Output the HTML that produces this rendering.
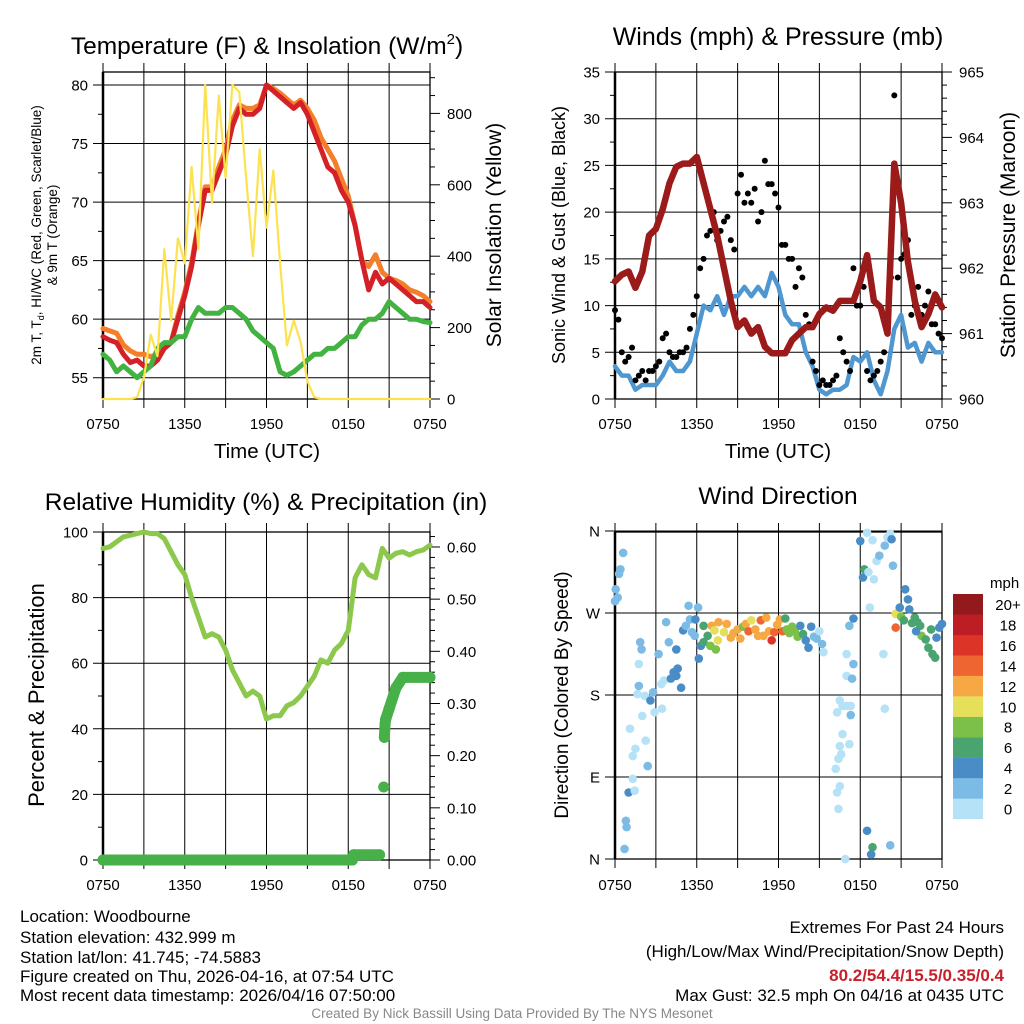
<!DOCTYPE html>
<html><head><meta charset="utf-8"><style>
html,body{margin:0;padding:0;background:#fff}
svg{display:block;font-family:"Liberation Sans",sans-serif}
.nar{font-family:"Liberation Sans Narrow","Liberation Sans",sans-serif}
</style></head><body>
<svg id="fig" width="1024" height="1024" viewBox="0 0 1024 1024" xmlns="http://www.w3.org/2000/svg">
<rect width="1024" height="1024" fill="#fff"/>
<g class="nar" font-size="17" fill="#000">
<text x="20" y="922">Location: Woodbourne</text>
<text x="20" y="943">Station elevation: 432.999 m</text>
<text x="20" y="963">Station lat/lon: 41.745; -74.5883</text>
<text x="20" y="982">Figure created on Thu, 2026-04-16, at 07:54 UTC</text>
<text x="20" y="1001">Most recent data timestamp: 2026/04/16 07:50:00</text>
<text x="1004" y="933" text-anchor="end">Extremes For Past 24 Hours</text>
<text x="1004" y="957" text-anchor="end">(High/Low/Max Wind/Precipitation/Snow Depth)</text>
<text x="1004" y="981" text-anchor="end" fill="#c8202a" font-weight="bold">80.2/54.4/15.5/0.35/0.4</text>
<text x="1004" y="1001" text-anchor="end">Max Gust: 32.5 mph On 04/16 at 0435 UTC</text>
<text x="512" y="1018" text-anchor="middle" font-size="13.5" fill="#888">Created By Nick Bassill Using Data Provided By The NYS Mesonet</text>
</g>
</svg>
<script>
// ---------- data (half-hourly from 0750 UTC, t = 0..24 h) ----------
const timeLabels = ["0750","1350","1950","0150","0750"];
const tempRed = [58.5,58.2,58,57,56.3,56.5,56,56,56.5,57.5,58,60,62,64.5,68,71,71,72.5,74,76.5,78,77.5,77.5,78,80,79.5,79,78.5,78,78.5,77.5,76,74.5,73,72.5,71,70,68,65,62.5,64,63,63.5,63,62.5,62,61.5,61.5,61];
const temp9m = [59.2,59,58.8,57.8,57.3,57,57,56.8,57,57.5,58,60.3,62.3,64.8,68.3,71.3,71.3,73,74.5,77,78.3,78,78,78.3,80,79.7,79.3,78.8,78.3,78.7,78,77,75.5,74.5,73.5,72,70.5,68,65,64.5,65.5,64,63.5,63.3,63,62.5,62.3,62,61.5];
const dewGreen = [57,56.5,55.5,56,55.5,55,55.5,56,57.5,58,58,58.5,58.5,60,61,60.5,60.5,60.5,61,61,60.5,60,59,58.5,58,57.5,55.5,55.2,55.5,56,56.5,57,57,57.5,57.5,58,58.5,58.5,59.5,60,60,60.5,61.5,61,60.5,60,60,59.8,59.7];
const solar = [0,0,0,0,0,5,60,180,120,420,220,450,380,650,420,880,550,850,620,880,860,620,400,700,480,640,380,150,220,160,50,5,0,0,0,0,0,0,0,0,0,0,0,0,0,0,0,0,0];
const windSpd = [3.5,2.5,2.5,1,1.5,1.5,1.5,2.5,4,3,3,4,7,10,9.5,11,9,11,11,12,11,12,11,13.5,12,9,8,8,5,3.5,1,0.5,1,1,1.5,4.5,4,5,2,0.5,3,7.5,9,5.5,6,4,6,5,5];
const gustA = [9.5,5,4.5,2,3,3,3.5,6.5,5,4.5,5,7.5,11,15,18,17,19,17,22,21,21,19,25.5,23,20.5,16.5,15,14,9,4,1.5,1.5,2,6.5,4,14,10,3,2.5,4,8,32.5,15,17,10,9,11.5,8,6.5];
const gustB = [8.5,4,5.5,2.5,2,3,4,7,4.5,5,5.5,9,14,17.5,20,18,19.5,16,24,22,22.5,20,23,22,16.5,15,12,13,8,3,2,1.5,2.5,5,3,10,12,2,3,5,13,13,15.5,9,12,10,8,7];
const pressure = [961.8,961.9,961.95,961.7,961.95,962.5,962.6,962.9,963.3,963.55,963.6,963.6,963.7,963.3,962.9,962.5,962.0,961.5,961.1,961.2,961.0,961.1,960.8,960.7,960.7,960.7,960.9,961.0,961.1,961.1,961.3,961.4,961.35,961.5,961.5,961.5,961.8,962.2,961.5,961.4,961.0,963.6,963.0,962.1,961.5,961.1,961.3,961.6,961.4];
const rh = [95,95.5,97,98.5,99,99.5,100,99.5,99.5,98,94,90,87,80,74,68,69,68,64,58,54,50,51.5,50,43,44,44,47,48,50,53,56,61,60,64,66,70,86,90,87,86,95,92,93.5,94,93,94,94.5,96];
const precipT = [0,18.3,18.4,20.3,20.6,20.65,20.7,20.75,21,21.5,22,24];
const precipV = [0,0,0.01,0.01,0.14,0.235,0.26,0.27,0.29,0.33,0.35,0.35];
const dirT = [0.0,0.05,0.2,0.3,0.4,0.6,0.7,0.8,0.85,1.0,1.3,1.45,1.3,1.5,1.1,1.65,1.75,2.0,2.25,2.4,2.2,1.85,1.95,1.75,2.6,2.9,2.8,3.2,3.4,3.6,3.45,3.75,3.95,4.5,4.1,4.3,4.5,4.85,4.6,5.0,5.2,5.5,5.4,5.65,5.85,6.1,5.9,6.15,6.3,6.5,6.5,6.8,7.0,7.1,7.3,7.6,7.4,7.55,8.0,8.2,8.5,8.7,9.0,9.2,9.4,9.6,9.8,10.0,10.3,10.5,10.7,10.9,11.1,11.3,11.5,11.7,11.9,12.1,12.3,12.5,12.6,12.8,13.0,13.2,13.4,13.6,13.8,14.0,14.2,14.4,14.6,14.8,15.0,15.2,15.3,16.4,16.3,16.5,16.2,16.4,16.6,16.5,16.7,16.3,16.7,16.5,17.0,17.3,17.2,17.0,17.4,17.0,17.5,17.3,16.9,17.5,17.2,18.0,18.3,18.2,18.7,18.5,18.9,18.6,19.0,19.2,19.4,19.8,20.0,20.2,20.3,20.4,18.5,18.9,18.8,20.2,19.7,19.8,20.6,20.6,20.8,20.9,21.0,21.3,21.5,21.6,21.2,21.8,22.0,22.2,22.4,22.5,22.8,23.0,23.3,23.5,23.8,24.0,23.6,23.2,22.1];
const dirDeg = [283,296,287,313,318,336,11,42,35,73,88,75,113,121,143,181,190,157,130,102,179,238,230,214,174,161,183,225,192,196,165,260,238,230,198,205,201,188,209,251,256,263,278,249,245,276,263,220,234,238,256,245,234,256,251,260,230,240,249,258,243,248,252,242,255,258,250,262,252,245,262,245,265,250,240,249,257,263,250,264,252,248,255,250,244,256,247,240,232,255,244,242,250,236,227,55,73,80,99,110,115,124,137,161,168,174,168,158,126,201,198,225,214,168,0,264,256,349,318,309,276,358,350,315,307,327,333,344,353,357,351,322,31,13,5,15,225,165,254,269,271,276,266,296,285,274,262,259,265,260,256,245,241,232,225,221,254,258,243,252,250];
const dirSpd = [3,2,3,2,2,2,2,2,2,4,1,0,1,1,0,1,3,1,1,3,1,3,2,0,4,1,3,3,0,1,1,2,2,4,4,4,4,4,4,4,2,2,2,2,2,2,4,4,4,6,6,7,8,13,11,12,9,10,11,12,12,13,12,12,9,12,14,10,12,13,15,12,12,12,16,14,13,12,14,6,8,9,8,8,9,5,7,4,4,5,3,3,1,2,1,0,0,1,0,1,0,1,0,0,0,1,1,2,1,0,2,0,3,1,0,4,2,4,6,4,1,0,0,1,0,1,2,2,1,1,4,2,4,6,4,2,0,0,15,10,10,4,8,4,4,4,6,6,6,6,6,8,6,7,7,7,4,4,4,6,4];
const speedBins = ["0","2","4","6","8","10","12","14","16","18","20+"];
const binColors = ["#b5e2f7","#7cbbe6","#4a8cc6","#49a46f","#7cc04a","#e6df5a","#f5a844","#ef6531","#dd3428","#bd1d25","#921a1c"];

// ---------- helpers ----------
const NS = "http://www.w3.org/2000/svg";
const svg = document.getElementById("fig");
function mk(tag, attrs, parent){ const e=document.createElementNS(NS,tag); for(const k in attrs) e.setAttribute(k,attrs[k]); (parent||svg).appendChild(e); return e; }
function txt(s, attrs, parent){ const e=mk("text",attrs,parent); e.textContent=s; return e; }
const hrs = i => i*0.5;

function panelFrame(g, x0, x1, top, bot, hTicks, yFn, labels, rTicks, yRFn, rLabels, leftMinor, rightMinor, xlabelY){
  const px = 13.625;
  for(let k=0;k<=8;k++){
    const x = x0 + k*3*px;
    const l = mk("line",{x1:x,x2:x,y1:top-9,y2:bot+9,stroke:"#000","stroke-width":1},g);
    
    
  }
  hTicks.forEach((v,i)=>{
    const y=yFn(v);
    const l = mk("line",{x1:x0-10,x2:x1,y1:y,y2:y,stroke:"#000","stroke-width":1},g);
    
    
    if(labels[i]!==null){
      const t = txt(labels[i],{x:x0-15,y:y+5.5,"text-anchor":"end","font-size":15},g);
      
      
    }
  });
  leftMinor.forEach(v=>{
    const y=yFn(v);
    const l = mk("line",{x1:x0-5,x2:x0,y1:y,y2:y,stroke:"#000","stroke-width":1},g);
    
    
  });
  if(rTicks){
    rTicks.forEach((v,i)=>{
      const y=yRFn(v);
      const l = mk("line",{x1:x1,x2:x1+10,y1:y,y2:y,stroke:"#000","stroke-width":1},g);
      
      
      const t = txt(rLabels[i],{x:x1+17,y:y+5.5,"font-size":15},g);
      
      
    });
    rightMinor.forEach(v=>{
      const y=yRFn(v);
      const l = mk("line",{x1:x1,x2:x1+5,y1:y,y2:y,stroke:"#000","stroke-width":1},g);
      
      
    });
  }
  const f = mk("rect",{x:x0,y:top,width:x1-x0,height:bot-top,fill:"none",stroke:"#000","stroke-width":1.3},g);
  
  
  const la = mk("line",{x1:x0,x2:x0,y1:top,y2:bot,stroke:"#000","stroke-width":2.5},g);
  
  
  timeLabels.forEach((s,k)=>{
    const t = txt(s,{x:x0+k*6*px,y:xlabelY,"text-anchor":"middle","font-size":15},g);
    
    
  });
}
function poly(g, xs, ys, color, w, name){
  const pts = xs.map((x,i)=>x.toFixed(1)+","+ys[i].toFixed(1)).join(" ");
  const p = mk("polyline",{points:pts,fill:"none",stroke:color,"stroke-width":w,"stroke-linejoin":"round","stroke-linecap":"round"},g);
  
  
  return p;
}
function title(s,x,y,size,g){
  const t=txt(s,{x:x,y:y,"text-anchor":"middle","font-size":size},g);
  
  
  return t;
}
function vtitle(s,x,y,size,g,name){
  const t=txt(s,{x:0,y:0,"text-anchor":"middle","font-size":size,transform:`translate(${x},${y}) rotate(-90)`},g);
  
  
  return t;
}

// ---------- Panel 1: temperature ----------
const g1 = mk("g",{});


const xL = t => 103 + t*13.625;
const xR = t => 615 + t*13.625;
const yT = v => 377.7 - (v-55)*11.708;
const yS = v => 399 - v*0.357;
panelFrame(g1,103,430,72,399,[55,60,65,70,75,80],yT,["55","60","65","70","75","80"],[0,200,400,600,800],yS,["0","200","400","600","800"],[57.5,62.5,67.5,72.5,77.5],[50,100,150,250,300,350,450,500,550,650,700,750,850,900],429);
poly(g1, temp9m.map((v,i)=>xL(hrs(i))), temp9m.map(yT), "#f47f2a", 5, "temp-9m-line");
poly(g1, tempRed.map((v,i)=>xL(hrs(i))), tempRed.map(yT), "#d42027", 5, "temp-2m-line");
poly(g1, dewGreen.map((v,i)=>xL(hrs(i))), dewGreen.map(yT), "#42b241", 5, "dewpoint-line");
poly(g1, solar.map((v,i)=>xL(hrs(i))), solar.map(yS), "#fde24f", 2.2, "solar-line");
const t1 = title("",267,54,24.5,g1);
t1.textContent = "Temperature (F) & Insolation (W/m";
const sup = mk("tspan",{dy:-10,"font-size":15},t1); sup.textContent="2";


const cl = mk("tspan",{dy:10},t1); cl.textContent=")";


const yt1 = txt("",{x:0,y:0,"text-anchor":"middle","font-size":13.5,transform:"translate(41,235) rotate(-90)"},g1);


yt1.innerHTML = '<tspan x="0">2m T, T<tspan font-size="9" dy="3">d</tspan><tspan dy="-3">, HI/WC (Red, Green, Scarlet/Blue)</tspan></tspan><tspan x="0" dy="16">&amp; 9m T (Orange)</tspan>';
vtitle("Solar Insolation (Yellow)",501,235,21,g1,"right-axis-title");
const xt1 = txt("Time (UTC)",{x:267,y:458,"text-anchor":"middle","font-size":20.5},g1);



// ---------- Panel 2: winds ----------
const g2 = mk("g",{});


const yW = v => 399 - v*9.343;
const yP = p => 399 - (p-960)*65.4;
panelFrame(g2,615,942,72,399,[0,5,10,15,20,25,30,35],yW,["0","5","10","15","20","25","30","35"],[960,961,962,963,964,965],yP,["960","961","962","963","964","965"],[2.5,7.5,12.5,17.5,22.5,27.5,32.5],[960.2,960.4,960.6,960.8,961.2,961.4,961.6,961.8,962.2,962.4,962.6,962.8,963.2,963.4,963.6,963.8,964.2,964.4,964.6,964.8],429);
poly(g2, windSpd.map((v,i)=>xR(hrs(i))), windSpd.map(yW), "#4f97d1", 4.5, "sonic-wind-line");
gustA.forEach((v,i)=>{
  const c = mk("circle",{cx:xR(hrs(i)),cy:yW(v),r:3,fill:"#000"},g2);
  
  
});
gustB.forEach((v,i)=>{
  const c = mk("circle",{cx:xR(hrs(i)+0.25),cy:yW(v),r:3,fill:"#000"},g2);
  
  
});
poly(g2, pressure.map((v,i)=>xR(hrs(i))), pressure.map(yP), "#9b1a1a", 6.5, "pressure-line");
title("Winds (mph) & Pressure (mb)",778,45,25,g2);
vtitle("Sonic Wind & Gust (Blue, Black)",565,235,18,g2,"y-axis-title");
vtitle("Station Pressure (Maroon)",1015,235,21,g2,"right-axis-title");
const xt2 = txt("Time (UTC)",{x:778,y:458,"text-anchor":"middle","font-size":20.5},g2);



// ---------- Panel 3: RH & precipitation ----------
const g3 = mk("g",{});


const yR = v => 860 - v*3.28;
const yPr = v => 860 - v*521.7;
panelFrame(g3,103,430,532,860,[0,20,40,60,80,100],yR,["0","20","40","60","80","100"],[0,0.1,0.2,0.3,0.4,0.5,0.6],yPr,["0.00","0.10","0.20","0.30","0.40","0.50","0.60"],[10,30,50,70,90],[0.02,0.04,0.06,0.08,0.12,0.14,0.16,0.18,0.22,0.24,0.26,0.28,0.32,0.34,0.36,0.38,0.42,0.44,0.46,0.48,0.52,0.54,0.56,0.58,0.62],890);
poly(g3, rh.map((v,i)=>xL(hrs(i))), rh.map(yR), "#8cc84b", 5, "rh-line");
for(let i=1;i<precipT.length;i++){
  if(Math.abs(precipV[i]-precipV[i-1])<0.045){
    const l = mk("line",{x1:xL(precipT[i-1]),y1:yPr(precipV[i-1]),x2:xL(precipT[i]),y2:yPr(precipV[i]),stroke:"#47b048","stroke-width":11,"stroke-linecap":"round"},g3);
    
    
  }
}
precipT.forEach((t,i)=>{
  const c = mk("circle",{cx:xL(t),cy:yPr(precipV[i]),r:5.5,fill:"#47b048"},g3);
  
  
});
title("Relative Humidity (%) & Precipitation (in)",266,510,24.5,g3);
vtitle("Percent & Precipitation",44,695,22,g3,"y-axis-title");

// ---------- Panel 4: wind direction ----------
const g4 = mk("g",{});


const yD = d => 859 - d*0.911;
panelFrame(g4,615,942,532,859,[0,90,180,270,360],yD,["N","E","S","W","N"],null,null,null,[],[],890);
const binOf = s => Math.min(10, Math.floor(s/2));
dirT.forEach((t,i)=>{
  const c = mk("circle",{cx:xR(t),cy:yD(dirDeg[i]),r:4.3,fill:binColors[binOf(dirSpd[i])]},g4);
  
  
});
title("Wind Direction",778,504,24.5,g4);
vtitle("Direction (Colored By Speed)",568,695,19,g4,"y-axis-title");
const cb = mk("g",{},g4);


const ut = txt("mph",{x:990,y:588,"font-size":15},cb);


speedBins.forEach((s,k)=>{
  const top = 594 + (10-k)*20.45;
  const r = mk("rect",{x:953,y:top,width:30,height:20.6,fill:binColors[k]},cb);
  
  
  const t = txt(s,{x:1008,y:top+16,"text-anchor":"middle","font-size":15},cb);
  
  
});
</script>
</body></html>
